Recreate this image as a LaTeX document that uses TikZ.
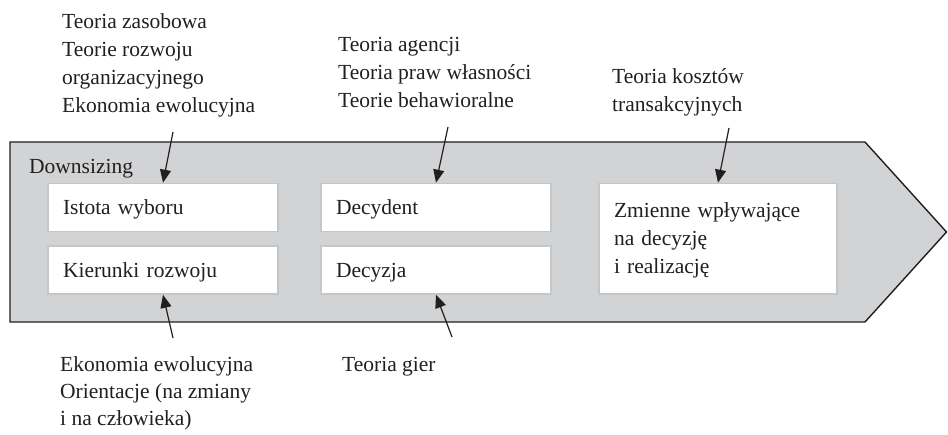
\documentclass[tikz,border=0pt]{standalone}
\usepackage{fontspec}
\setmainfont{Liberation Serif}
\usetikzlibrary{arrows.meta}
\definecolor{bandgray}{HTML}{D1D3D4}
\definecolor{boxedge}{HTML}{C4C6C8}
\definecolor{ink}{HTML}{231F20}
\begin{document}
\begin{tikzpicture}[x=1pt,y=-1pt,
  font=\fontsize{21.5}{28}\selectfont, text=ink,
  lbl/.style={anchor=base west, inner sep=0pt, align=left},
  wbox/.style={draw=boxedge, line width=1.6pt, fill=white,
    inner xsep=15pt, inner ysep=0pt, text width=200pt, align=left,
    minimum height=48pt, text height=14.2pt, text depth=0pt},
  arr/.style={draw=ink, line width=1.2pt, -{Triangle[length=13pt,width=11pt]}}]
\useasboundingbox (0,0) rectangle (948,435);
% band
\path[draw=ink, fill=bandgray, line width=1.4pt, line join=miter]
  (10,142) -- (865,142) -- (946.5,232) -- (865,322) -- (10,322) -- cycle;
\node[lbl] (ds) at (29,174) {Downsizing};
% boxes
\node[wbox] (b1) at (163,207.5) {Istota wyboru};
\node[wbox] (b2) at (163,270) {Kierunki rozwoju};
\node[wbox] (b3) at (436,207.5) {Decydent};
\node[wbox] (b4) at (436,270) {Decyzja};
\node[wbox, text width=208pt, minimum height=110.5pt, text depth=56pt] (b5) at (718,238.75)
  {Zmienne wpływające\\na decyzję\\i realizację};
% outer texts (base = last line)
\node[lbl] (t1) at (62,113) {Teoria zasobowa\\Teorie rozwoju\\organizacyjnego\\Ekonomia ewolucyjna};
\node[lbl] (t2) at (338,108) {Teoria agencji\\Teoria praw własności\\Teorie behawioralne};
\node[lbl] (t3) at (612,112) {Teoria kosztów\\transakcyjnych};
\node[lbl, font=\fontsize{21.5}{26.7}\selectfont] (t4) at (60,425) {Ekonomia ewolucyjna\\Orientacje (na zmiany\\i na człowieka)};
\node[lbl] (t5) at (342,372) {Teoria gier};
% arrow ends
\coordinate (s1) at (173,132);
\coordinate (s2) at (448,127);
\coordinate (s3) at (729,128);
\coordinate (s4) at (173,338);
\coordinate (s5) at (452,337);
\draw[arr] (s1) -- (b1.north);
\draw[arr] (s2) -- (b3.north);
\draw[arr] (s3) -- (b5.north);
\draw[arr] (s4) -- (b2.south);
\draw[arr] (s5) -- (b4.south);
\end{tikzpicture}
\end{document}
